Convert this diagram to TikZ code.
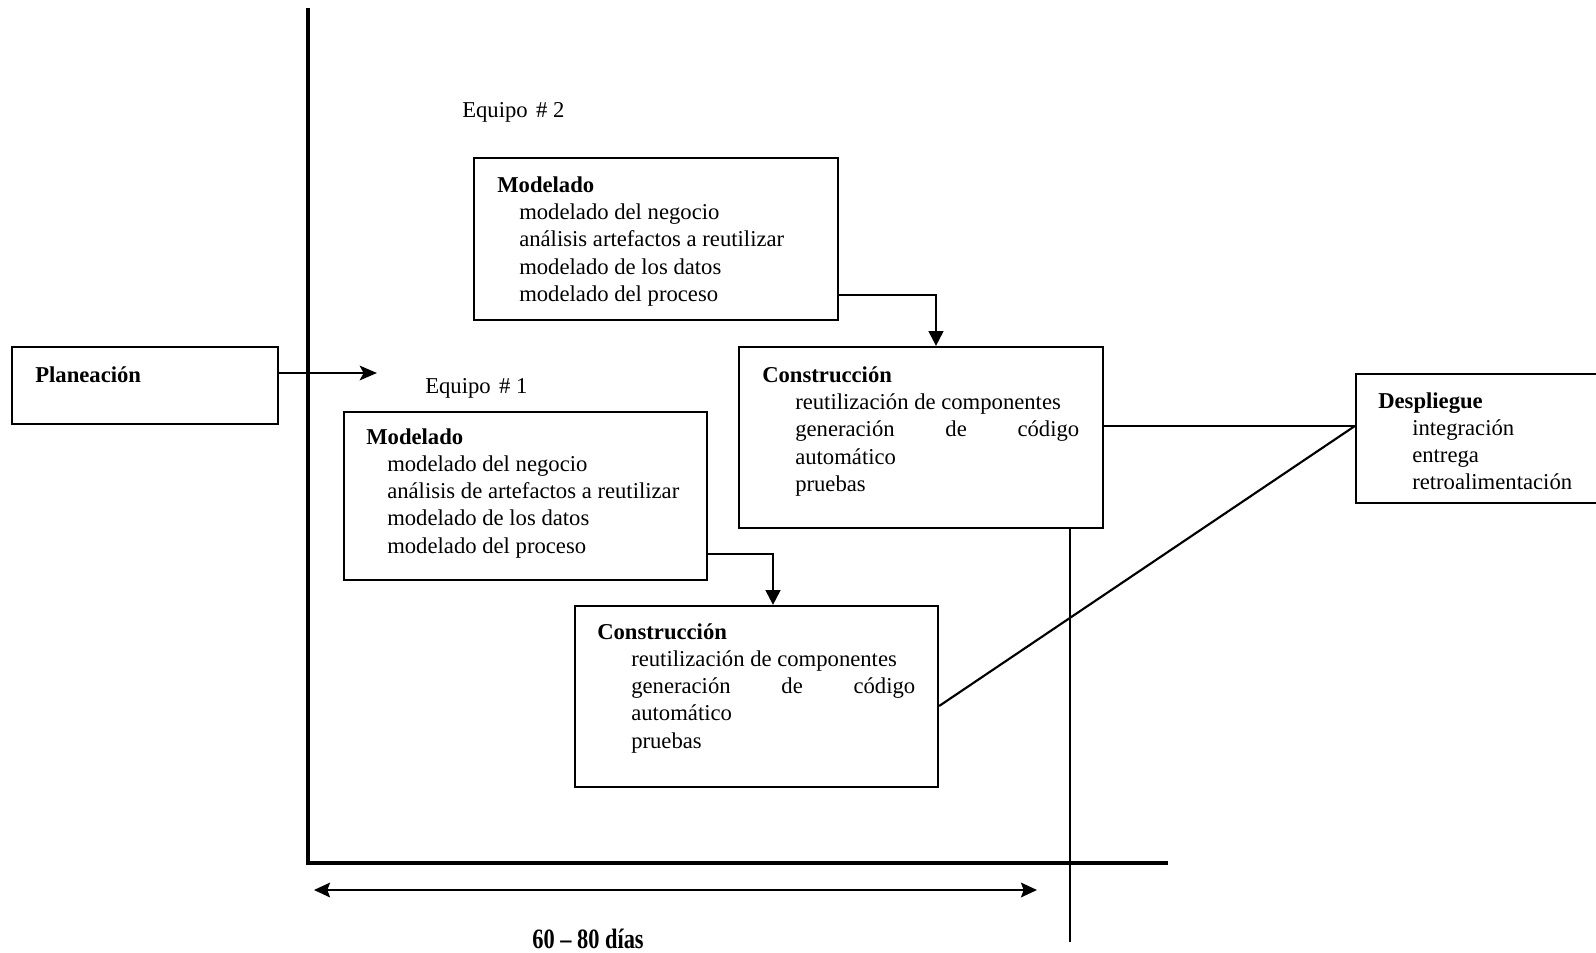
\documentclass[tikz,border=0pt]{standalone}
\usepackage{fontspec}
\usepackage{graphicx}
\setmainfont{Liberation Serif}
\usetikzlibrary{arrows.meta,calc,fit}

% a top-aligned block of lines whose baseline is the first line
\newcommand{\blocklines}[1]{\begin{tabular}[t]{@{}l@{}}#1\end{tabular}}
\newcommand{\spreadline}[1]{\makebox[213pt][s]{#1}}

\begin{document}
\begin{tikzpicture}[x=0.75pt,y=-0.75pt,
  font=\fontsize{17}{20.5}\selectfont,
  box/.style={draw, line width=1.7pt, inner sep=0pt, rectangle},
  conn/.style={line width=1.6pt},
  downarrow/.style={conn, -{Triangle[length=11pt,width=11pt]}},
  axisline/.style={line width=3pt, line join=miter},
  title/.style={anchor=base west, inner sep=0pt, font=\fontsize{17}{20.5}\selectfont\bfseries},
  items/.style={anchor=base west, inner sep=0pt},
  label/.style={anchor=base west, inner sep=0pt}
]
\clip (0,0) rectangle (1596,953);
\fill[white] (0,0) rectangle (1596,953);

% time axes
\coordinate (axtop) at (308,8);
\coordinate (axend) at (1168,863);
\draw[axisline] (axtop) |- (axend);

% boxes
\node[box, fit={(12,347) (278,424)}] (plan) {};
\node[box, fit={(474,158) (838,320)}] (mod2) {};
\node[box, fit={(739,347) (1103,528)}] (con2) {};
\node[box, fit={(344,412) (707,580)}] (mod1) {};
\node[box, fit={(575,606) (938,787)}] (con1) {};
\node[box, fit={(1356,374) (1640,503)}] (desp) {};

% texts
\node[title] (planT) at (35,382) {Planeación};

\node[label] (eq2) at (462,117) {Equipo\hspace{2pt} \# 2};
\node[title] (mod2T) at (497,192) {Modelado};
\node[items] (mod2L) at (519,219.5) {\blocklines{modelado del negocio\\
  análisis artefactos a reutilizar\\ modelado de los datos\\ modelado del proceso}};

\node[title] (con2T) at (762,382) {Construcción};
\node[items] (con2L) at (795,409.5) {\blocklines{reutilización de componentes\\
  \spreadline{generación de código}\\ automático\\ pruebas}};

\node[label] (eq1) at (425,393) {Equipo\hspace{2pt} \# 1};
\node[title] (mod1T) at (366,444) {Modelado};
\node[items] (mod1L) at (387,471) {\blocklines{modelado del negocio\\
  análisis de artefactos a reutilizar\\ modelado de los datos\\ modelado del proceso}};

\node[title] (con1T) at (597,639) {Construcción};
\node[items] (con1L) at (631,666) {\blocklines{reutilización de componentes\\
  \spreadline{generación de código}\\ automático\\ pruebas}};

\node[title] (despT) at (1378,408) {Despliegue};
\node[items] (despL) at (1412,435) {\blocklines{integración\\ entrega\\ retroalimentación}};

\node[anchor=base, inner sep=0pt] (days) at (588,948)
  {\scalebox{0.8}[1]{\fontsize{21}{25}\selectfont\bfseries 60 -- 80 días}};

% connectors
\coordinate (start) at (377,373);
\draw[conn, -{Stealth[length=13pt,width=11pt,inset=3pt]}] (plan.east |- start) -- (start);

\draw[downarrow] ($(mod2.east)+(0,56)$) -| ($(con2.north)+(15,0)$);
\draw[downarrow] ($(mod1.east)+(0,58)$) -| ($(con1.north)+(16.5,0)$);

\coordinate (dj) at ($(desp.west)+(0,-12.5)$);
\draw[conn] (con2.east |- dj) -- (dj);
\draw[conn] ($(con1.east)+(0,9.5)$) -- (dj);

\coordinate (cut) at (1070,942);
\draw[line width=1.5pt] (con2.south -| cut) -- (cut);

% duration span
\coordinate (spanL) at (314,890);
\coordinate (spanR) at (1037,890);
\draw[conn, {Stealth[length=12pt,width=11pt,inset=2pt]}-{Stealth[length=12pt,width=11pt,inset=2pt]}] (spanL) -- (spanR);
\end{tikzpicture}
\end{document}
